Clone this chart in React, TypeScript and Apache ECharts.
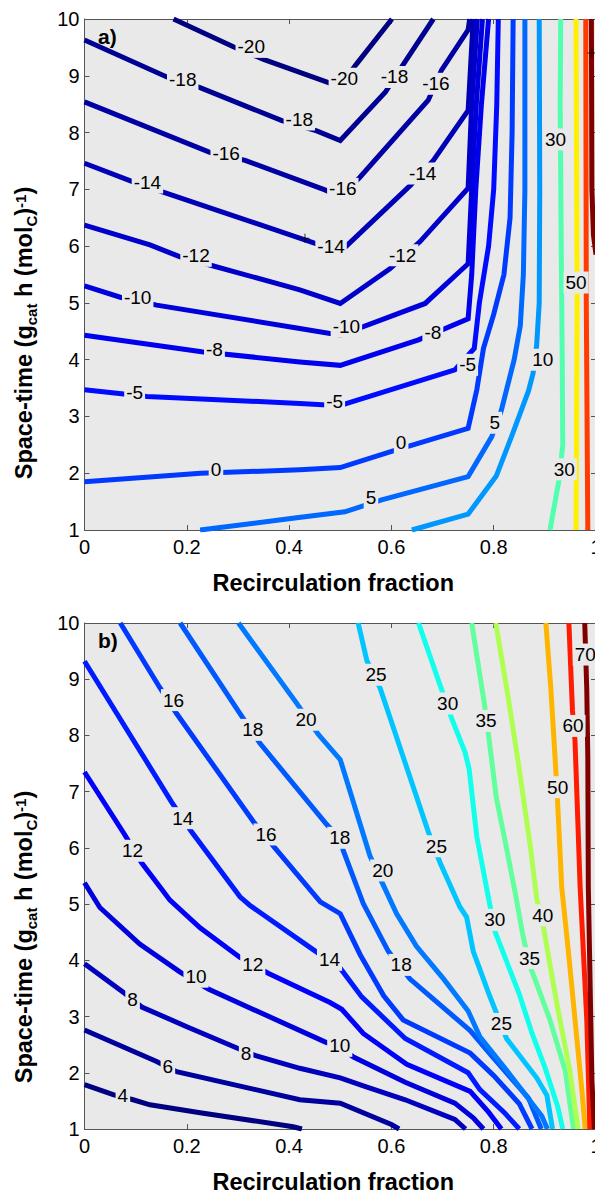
import React, { useEffect, useRef } from "react";
import * as echarts from "echarts";

const FONT = "'Liberation Sans', Arial, sans-serif";
const PLOT_BG = "#E9E9E9";

// ---------- Panel a) contour lines [x, y] ----------
const A_M20 = [[0.174, 10], [0.291, 9.51], [0.35, 9.29], [0.477, 8.88], [0.5, 8.82], [0.532, 9.21], [0.601, 10]];
const A_M18 = [[0, 9.63], [0.161, 8.98], [0.226, 8.79], [0.386, 8.21], [0.454, 8.03], [0.5, 7.86], [0.588, 8.71], [0.624, 9.21], [0.682, 10]];
const A_M16 = [[0, 8.54], [0.245, 7.65], [0.314, 7.51], [0.47, 6.99], [0.5, 6.87], [0.538, 7.21], [0.672, 8.57], [0.698, 9.1], [0.75, 9.81], [0.753, 10]];
const A_M14 = [[0, 7.46], [0.095, 7.13], [0.161, 6.93], [0.451, 6.05], [0.5, 5.9], [0.636, 7.06], [0.682, 7.51], [0.75, 8.39], [0.755, 9.2], [0.76, 10]];
const A_M12 = [[0, 6.37], [0.128, 6.02], [0.187, 5.81], [0.252, 5.65], [0.421, 5.23], [0.5, 4.99], [0.597, 5.6], [0.656, 6.08], [0.75, 7.02], [0.757, 8.5], [0.768, 10]];
const A_M10 = [[0, 5.3], [0.07, 5.1], [0.141, 4.96], [0.421, 4.55], [0.5, 4.43], [0.666, 4.99], [0.75, 5.69], [0.757, 7], [0.766, 8.5], [0.778, 10]];
const A_M8 = [[0, 4.43], [0.229, 4.14], [0.421, 3.96], [0.5, 3.9], [0.653, 4.35], [0.75, 4.72], [0.757, 5.5], [0.765, 7], [0.776, 8.5], [0.79, 10]];
const A_M5 = [[0, 3.47], [0.122, 3.35], [0.421, 3.23], [0.5, 3.19], [0.513, 3.23], [0.724, 3.82], [0.762, 4.2], [0.772, 5.0], [0.79, 6.0], [0.8, 7.0], [0.806, 8.5], [0.809, 10]];
const A_0 = [[0, 1.85], [0.227, 2.0], [0.421, 2.06], [0.5, 2.1], [0.605, 2.4], [0.75, 2.79], [0.767, 3.47], [0.78, 4.2], [0.8, 4.8], [0.82, 5.5], [0.832, 6.5], [0.836, 8], [0.838, 10]];
const A_5 = [[0.226, 1.0], [0.411, 1.21], [0.509, 1.32], [0.581, 1.53], [0.75, 1.94], [0.796, 2.64], [0.815, 3.11], [0.84, 4.0], [0.852, 4.6], [0.858, 5.5], [0.861, 7], [0.861, 10]];
const A_10 = [[0.64, 1.0], [0.75, 1.28], [0.805, 1.95], [0.835, 2.65], [0.868, 3.45], [0.877, 3.76], [0.884, 4.26], [0.889, 5], [0.89, 7], [0.889, 10]];
const A_30 = [[0.931, 10], [0.93, 8.5], [0.932, 6], [0.934, 4], [0.935, 2.5], [0.928, 1.9], [0.91, 1.0]];
const A_50 = [[0.961, 10], [0.963, 5], [0.961, 1]];
const A_70 = [[0.98, 10], [0.981, 5], [0.984, 1]];
const A_90 = [[0.991, 10], [0.992, 7], [0.995, 6.2], [1.0, 5.85]];

const A_LINES = [A_M20, A_M18, A_M16, A_M14, A_M12, A_M10, A_M8, A_M5, A_0, A_5, A_10, A_30, A_50, A_70, A_90];
const A_COLORS = ["#000080", "#000092", "#0000A4", "#0000B7", "#0000CA", "#0000DC", "#0000EF", "#000BFF", "#003AFF", "#0068FF", "#0097FF", "#51FFAE", "#FFF000", "#FF3B00", "#800000"];

// contour labels: [text, x, y]
const A_LABELS = [
  ["-20", 0.327, 9.5], ["-20", 0.509, 8.94],
  ["-18", 0.193, 8.93], ["-18", 0.421, 8.22], ["-18", 0.607, 8.97],
  ["-16", 0.278, 7.63], ["-16", 0.506, 7.0], ["-16", 0.688, 8.85],
  ["-14", 0.124, 7.11], ["-14", 0.483, 5.99], ["-14", 0.662, 7.27],
  ["-12", 0.219, 5.82], ["-12", 0.623, 5.83],
  ["-10", 0.105, 5.08], ["-10", 0.513, 4.57],
  ["-8", 0.255, 4.17], ["-8", 0.682, 4.47],
  ["-5", 0.099, 3.41], ["-5", 0.49, 3.25], ["-5", 0.75, 3.9],
  ["0", 0.258, 2.05], ["0", 0.62, 2.53],
  ["5", 0.561, 1.56], ["5", 0.803, 2.88],
  ["10", 0.897, 3.99],
  ["30", 0.922, 7.87], ["30", 0.939, 2.06],
  ["50", 0.962, 5.35],
];
// clabel marker crosses [x, y]
const A_MARKS = [[0.431, 6.14], [0.992, 9.4]];

// ---------- Panel b) contour lines [x, y] ----------
const B_4 = [[0, 1.79], [0.056, 1.61], [0.095, 1.52], [0.128, 1.43], [0.226, 1.29], [0.408, 1.04], [0.425, 1.0]];
const B_6 = [[0, 2.76], [0.141, 2.2], [0.18, 2.02], [0.421, 1.52], [0.5, 1.46], [0.6, 1.08], [0.615, 1.0]];
const B_8 = [[0, 3.94], [0.079, 3.41], [0.112, 3.17], [0.2, 2.82], [0.298, 2.44], [0.333, 2.31], [0.421, 2.08], [0.5, 1.91], [0.548, 1.76], [0.627, 1.52], [0.724, 1.17], [0.745, 1.0]];
const B_10 = [[0, 5.38], [0.03, 4.94], [0.108, 4.29], [0.187, 3.79], [0.242, 3.49], [0.47, 2.55], [0.5, 2.45], [0.526, 2.28], [0.627, 1.83], [0.724, 1.46], [0.76, 1.2], [0.78, 1.0]];
const B_12 = [[0, 7.35], [0.079, 6.23], [0.112, 5.73], [0.148, 5.3], [0.167, 5.07], [0.226, 4.58], [0.304, 4.05], [0.359, 3.77], [0.48, 3.25], [0.503, 3.13], [0.545, 2.7], [0.63, 2.15], [0.754, 1.67], [0.79, 1.3], [0.815, 1.0]];
const B_14 = [[0, 9.32], [0.17, 6.82], [0.209, 6.29], [0.304, 5.13], [0.323, 4.98], [0.447, 4.19], [0.5, 3.86], [0.542, 3.35], [0.627, 2.61], [0.75, 2.0], [0.773, 1.7], [0.82, 1.3], [0.85, 1.0]];
const B_16 = [[0.07, 10], [0.148, 8.84], [0.18, 8.39], [0.33, 6.47], [0.373, 5.99], [0.461, 5.04], [0.5, 4.83], [0.539, 4.1], [0.585, 3.37], [0.623, 2.94], [0.754, 2.35], [0.8, 1.95], [0.85, 1.45], [0.875, 1.0]];
const B_18 = [[0.187, 10], [0.304, 8.39], [0.343, 7.86], [0.474, 6.41], [0.5, 6.17], [0.506, 5.95], [0.545, 5.01], [0.594, 4.16], [0.636, 3.67], [0.754, 2.75], [0.796, 2.3], [0.868, 1.55], [0.893, 1.0]];
const B_20 = [[0.301, 10], [0.415, 8.57], [0.457, 8.02], [0.5, 7.57], [0.558, 5.86], [0.581, 5.4], [0.61, 4.83], [0.649, 4.25], [0.702, 3.67], [0.75, 3.1], [0.773, 2.64], [0.829, 2.0], [0.894, 1.23], [0.905, 1.0]];
const B_25 = [[0.535, 10], [0.552, 9.33], [0.578, 8.84], [0.672, 6.29], [0.695, 5.74], [0.734, 4.95], [0.747, 4.77], [0.76, 4.16], [0.792, 3.37], [0.825, 2.61], [0.884, 1.91], [0.904, 1.6], [0.915, 1.0]];
const B_30 = [[0.653, 10], [0.698, 8.82], [0.718, 8.3], [0.744, 7.7], [0.752, 7.4], [0.767, 6.2], [0.79, 5.1], [0.803, 4.5], [0.85, 3.4], [0.875, 2.7], [0.9, 2.1], [0.925, 1.4], [0.935, 1.0]];
const B_35 = [[0.757, 10], [0.782, 8.55], [0.79, 8.0], [0.805, 6.9], [0.825, 6.0], [0.842, 5.2], [0.858, 4.4], [0.871, 3.9], [0.91, 2.94], [0.94, 2.03], [0.956, 1.0]];
const B_40 = [[0.804, 10], [0.829, 8.64], [0.85, 7.4], [0.872, 6.0], [0.884, 5.1], [0.897, 4.6], [0.923, 3.25], [0.949, 2.03], [0.965, 1.0]];
const B_50 = [[0.902, 10], [0.912, 8.8], [0.92, 7.6], [0.925, 6.8], [0.933, 5.3], [0.946, 4.16], [0.959, 2.94], [0.972, 1.73], [0.979, 1.0]];
const B_60 = [[0.947, 10], [0.954, 8.44], [0.959, 7.9], [0.969, 5.3], [0.982, 2.94], [0.988, 1.0]];
const B_70 = [[0.978, 10], [0.982, 8.8], [0.984, 7.6], [0.985, 5.3], [0.992, 1.85], [0.997, 1.0]];

const B_LINES = [B_4, B_6, B_8, B_10, B_12, B_14, B_16, B_18, B_20, B_25, B_30, B_35, B_40, B_50, B_60, B_70];
const B_COLORS = ["#000080", "#00009F", "#0000BD", "#0000DC", "#0000FB", "#001BFF", "#003AFF", "#0059FF", "#0078FF", "#00C5FF", "#13FFEC", "#61FF9E", "#AEFF51", "#FFB500", "#FF1C00", "#800000"];

const B_LABELS = [
  ["4", 0.076, 1.58], ["6", 0.164, 2.11],
  ["8", 0.095, 3.29], ["8", 0.317, 2.33],
  ["10", 0.219, 3.7], ["10", 0.5, 2.47],
  ["12", 0.095, 5.94], ["12", 0.33, 3.92],
  ["14", 0.193, 6.52], ["14", 0.48, 4.0],
  ["16", 0.175, 8.62], ["16", 0.356, 6.23],
  ["18", 0.33, 8.09], ["18", 0.5, 6.17], ["18", 0.62, 3.91],
  ["20", 0.434, 8.27], ["20", 0.584, 5.59],
  ["25", 0.571, 9.07], ["25", 0.689, 6.02], ["25", 0.816, 2.86],
  ["30", 0.711, 8.56], ["30", 0.803, 4.71],
  ["35", 0.786, 8.25], ["35", 0.871, 4.03],
  ["40", 0.897, 4.79], ["50", 0.926, 7.07], ["60", 0.956, 8.16], ["70", 0.98, 9.43],
];

const X_MIN = 0, X_MAX = 1, X_STEP = 0.2;
const Y_MIN = 1, Y_MAX = 10, Y_STEP = 1;
const X_TITLE = "Recirculation fraction";
const Y_TITLE = "{t|Space-time (g}{s|cat}{t| h (mol}{s|C}{t|)}{p|-1}{t|)}";
const PANEL_TAGS = ["a)", "b)"];

const GRIDS = [
  { left: 84.5, top: 19, width: 511.5, height: 511 },
  { left: 84.5, top: 623, width: 511.5, height: 510 },
];
const Y_TITLE_POS = [[24, 333], [24, 937]];

const AXIS_COLOR = "#555";

function xAxes(gi: number) {
  const common = {
    gridIndex: gi, type: "value", min: X_MIN, max: X_MAX, interval: X_STEP,
    axisLine: { show: true, onZero: false, lineStyle: { color: AXIS_COLOR, width: 1 } },
    axisTick: { show: true, inside: true, length: 5, lineStyle: { color: AXIS_COLOR } },
    splitLine: { show: false },
  };
  return [
    {
      ...common, position: "bottom",
      axisLabel: { show: true, color: "#000", fontSize: 20, fontFamily: FONT, margin: 7 },
      name: X_TITLE, nameLocation: "middle", nameGap: 41,
      nameTextStyle: { color: "#000", fontSize: 23.5, fontWeight: "bold", fontFamily: FONT, padding: [0, 14, 0, 0] },
    },
    { ...common, position: "top", axisLabel: { show: false } },
  ];
}

function yAxes(gi: number) {
  const common = {
    gridIndex: gi, type: "value", min: Y_MIN, max: Y_MAX, interval: Y_STEP,
    axisLine: { show: true, onZero: false, lineStyle: { color: AXIS_COLOR, width: 1 } },
    axisTick: { show: true, inside: true, length: 5, lineStyle: { color: AXIS_COLOR } },
    splitLine: { show: false },
  };
  return [
    { ...common, position: "left", axisLabel: { show: true, color: "#000", fontSize: 20, fontFamily: FONT, margin: 5 } },
    { ...common, position: "right", axisLabel: { show: false } },
  ];
}

function contourSeries(lines: number[][][], colors: string[], axisIdx: number) {
  return lines.map((d, i) => ({
    type: "line",
    xAxisIndex: axisIdx,
    yAxisIndex: axisIdx,
    data: d,
    showSymbol: false,
    symbol: "none",
    silent: true,
    clip: true,
    z: 2,
    emphasis: { disabled: true },
    lineStyle: { color: colors[i], width: 5, cap: "butt", join: "miter" },
    itemStyle: { color: colors[i] },
  }));
}

function labelSeries(labels: (string | number)[][], axisIdx: number) {
  return {
    type: "scatter",
    xAxisIndex: axisIdx,
    yAxisIndex: axisIdx,
    silent: true,
    z: 5,
    symbolSize: 1,
    emphasis: { disabled: true },
    itemStyle: { color: "rgba(0,0,0,0)" },
    labelLayout: { hideOverlap: false },
    data: labels.map((l) => [l[1], l[2], l[0]]),
    label: {
      show: true,
      position: [0, 0],
      align: "center",
      verticalAlign: "middle",
      formatter: (p: any) => p.value[2],
      color: "#000",
      opacity: 1,
      fontSize: 19,
      fontFamily: FONT,
      textBorderWidth: 0,
      backgroundColor: PLOT_BG,
      padding: [2, 2, 1, 2],
    },
  };
}

function markSeries(marks: number[][], axisIdx: number) {
  return {
    type: "scatter",
    xAxisIndex: axisIdx,
    yAxisIndex: axisIdx,
    silent: true,
    z: 6,
    symbol: "path://M4,0h1v9h-1zM0,4h9v1h-9z",
    symbolSize: 9,
    emphasis: { disabled: true },
    itemStyle: { color: "#000" },
    data: marks,
  };
}

const SUBSTYLE = { fontSize: 15, fontWeight: "bold", fontFamily: FONT, fill: "#000" };

export default function App() {
  const ref = useRef<HTMLDivElement>(null);
  useEffect(() => {
    if (!ref.current) return;
    const chart = echarts.init(ref.current, null, { renderer: "svg" });
    const titles = Y_TITLE_POS.map((p) => ({
      type: "text",
      x: p[0],
      y: p[1],
      rotation: Math.PI / 2,
      z: 10,
      style: {
        text: Y_TITLE,
        align: "center",
        verticalAlign: "middle",
        fill: "#000",
        rich: {
          t: { fontSize: 23.5, fontWeight: "bold", fontFamily: FONT, fill: "#000", lineHeight: 30 },
          s: { ...SUBSTYLE, lineHeight: 13, verticalAlign: "bottom" },
          p: { ...SUBSTYLE, lineHeight: 13, verticalAlign: "top", padding: [4, 0, 0, 0] },
        },
      },
    }));
    const tags = PANEL_TAGS.map((t, i) => ({
      type: "text",
      left: 98,
      top: GRIDS[i].top + 7,
      z: 10,
      style: { text: t, font: `bold 21px ${FONT}`, fill: "#000" },
    }));
    const option = {
      animation: false,
      grid: GRIDS.map((g) => ({ ...g, show: true, backgroundColor: PLOT_BG, borderWidth: 0, containLabel: false })),
      xAxis: [...xAxes(0), ...xAxes(1)],
      yAxis: [...yAxes(0), ...yAxes(1)],
      series: [
        ...contourSeries(A_LINES, A_COLORS, 0),
        labelSeries(A_LABELS, 0),
        markSeries(A_MARKS, 0),
        ...contourSeries(B_LINES, B_COLORS, 2),
        labelSeries(B_LABELS, 2),
      ],
      graphic: [...titles, ...tags],
    };
    chart.setOption(option as any);
    return () => chart.dispose();
  }, []);
  return (
    <div style={{ position: "absolute", left: 0, top: 0, width: 595, height: 1195, overflow: "hidden", background: "#fff" }}>
      <div ref={ref} style={{ width: 606, height: 1195 }} />
    </div>
  );
}
